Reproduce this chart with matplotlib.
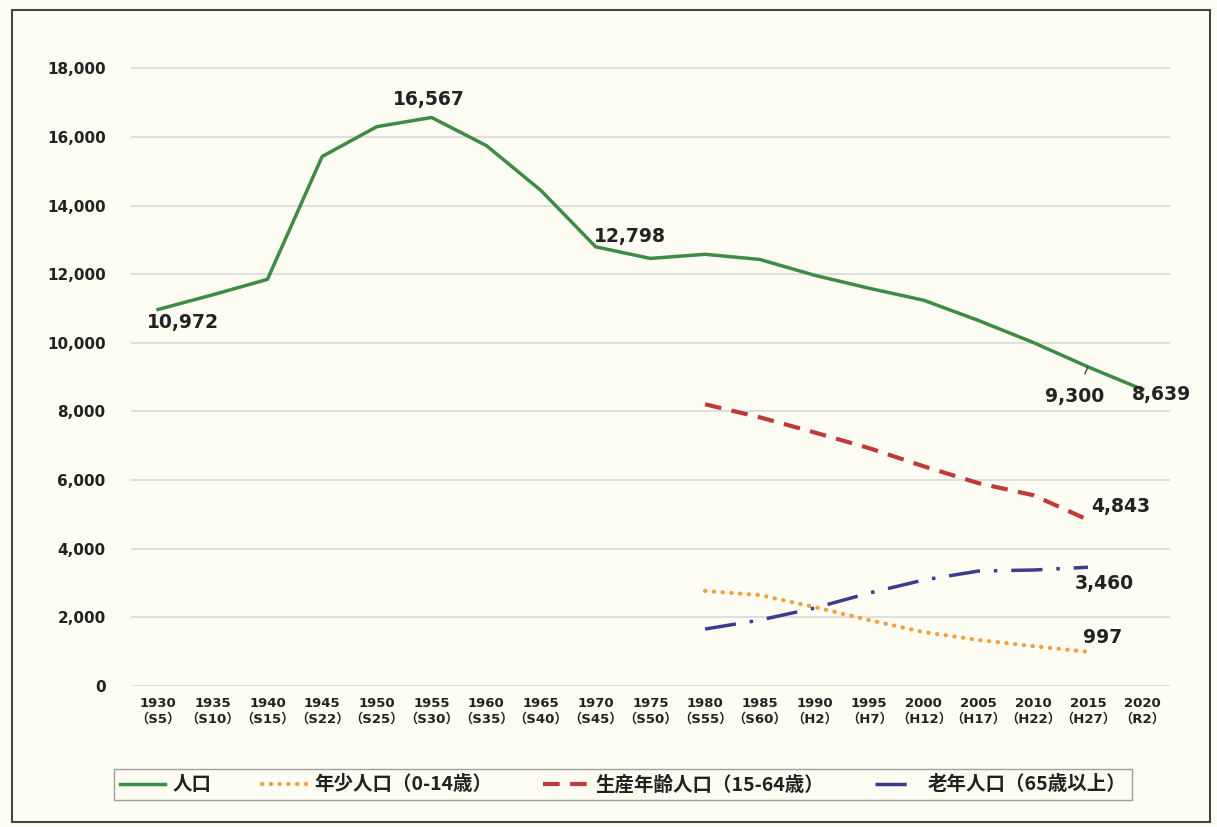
import numpy as np
import matplotlib.pyplot as plt
from matplotlib.patches import Rectangle

# データ（読み取り値）
years = ['1930', '1935', '1940', '1945', '1950', '1955', '1960', '1965', '1970', '1975',
         '1980', '1985', '1990', '1995', '2000', '2005', '2010', '2015', '2020']
eras = ['S5', 'S10', 'S15', 'S22', 'S25', 'S30', 'S35', 'S40', 'S45', 'S50',
        'S55', 'S60', 'H2', 'H7', 'H12', 'H17', 'H22', 'H27', 'R2']
total = [10972, 11400, 11850, 15430, 16300, 16567, 15750, 14440, 12798, 12460,
         12580, 12430, 11970, 11590, 11240, 10650, 10010, 9300, 8639]
# 1980〜2015
young = [2770, 2650, 2300, 1920, 1570, 1340, 1160, 997]
working = [8210, 7830, 7390, 6930, 6400, 5910, 5560, 4843]
elderly = [1660, 1920, 2270, 2710, 3090, 3350, 3380, 3460]

names = ['人口', '年少人口（0-14歳）', '生産年齢人口（15-64歳）', '老年人口（65歳以上）']
c_total = '#3d8b45'
c_young = '#f0a040'
c_work = '#c0393b'
c_old = '#3c3c8c'
bg = '#fdfdf4'

jp = ['DejaVu Sans', 'Noto Sans CJK JP']

fig = plt.figure(figsize=(12.17, 8.27), dpi=100, facecolor=bg)
ax = fig.add_axes([0.1074, 0.1705, 0.854, 0.7884], facecolor=bg)

x = np.arange(len(years))
x2 = x[10:18]

ax.plot(x, total, color=c_total, lw=2.5, label=names[0])
ax.plot(x2, young, color=c_young, lw=3, linestyle=(0, (0.1, 2.0)),
        dash_capstyle='round', label=names[1])
ax.plot(x2, working, color=c_work, lw=3, linestyle=(0, (4, 2.5)), label=names[2])
ax.plot(x2, elderly, color=c_old, lw=2.5, linestyle=(0, (9, 4, 1, 4)), label=names[3])

ax.set_xlim(-0.5, len(years) - 0.5)
ax.set_ylim(0, 19000)
ax.set_yticks(np.arange(0, 18001, 2000))
ax.set_yticklabels([f'{v:,}' for v in range(0, 18001, 2000)],
                   fontsize=11, fontweight='bold', color='#222222', family='DejaVu Sans')
ax.set_xticks(x)
ax.set_xticklabels([f'{y}\n（{e}）' for y, e in zip(years, eras)],
                   fontsize=9.5, fontweight='bold', color='#222222', family=jp,
                   linespacing=1.25)
ax.tick_params(length=0, pad=8)
ax.tick_params(axis='y', pad=18)
ax.grid(axis='y', color='#dcdcdc', lw=1.3)
ax.set_axisbelow(True)
for s in ax.spines.values():
    s.set_visible(False)

lab = dict(fontsize=13.5, fontweight='bold', color='#222222', family='DejaVu Sans')
ax.text(0.45, 10600, '10,972', va='center', ha='center', **lab)
ax.text(4.95, 17090, '16,567', va='center', ha='center', **lab)
ax.text(8.63, 13100, '12,798', va='center', ha='center', **lab)
ax.annotate('9,300', xy=(17, total[17]), xytext=(16.76, 8440), ha='center', va='center',
            arrowprops=dict(arrowstyle='-', color='#444444', lw=1, shrinkA=8, shrinkB=0), **lab)
ax.text(17.8, 8500, '8,639', va='center', ha='left', **lab)
ax.text(17.05, 5240, '4,843', va='center', ha='left', **lab)
ax.text(16.75, 3000, '3,460', va='center', ha='left', **lab)
ax.text(16.9, 1400, '997', va='center', ha='left', **lab)

leg = fig.legend(loc='center', bbox_to_anchor=(0.512, 0.051), ncol=4, frameon=True,
                 fancybox=False, edgecolor='#888888', facecolor=bg, handlelength=2.3,
                 columnspacing=2.6, handletextpad=0.4, borderpad=0.3,
                 prop={'family': 'Noto Sans CJK JP', 'weight': 'bold', 'size': 14})
for t in leg.get_texts():
    t.set_color('#222222')

fig.patches.append(Rectangle((12 / 1217, 5 / 827), 1198 / 1217, 812 / 827,
                             transform=fig.transFigure, fill=False,
                             edgecolor='#444444', lw=1.5))

fig.savefig('out.png', dpi=100, facecolor=bg)
